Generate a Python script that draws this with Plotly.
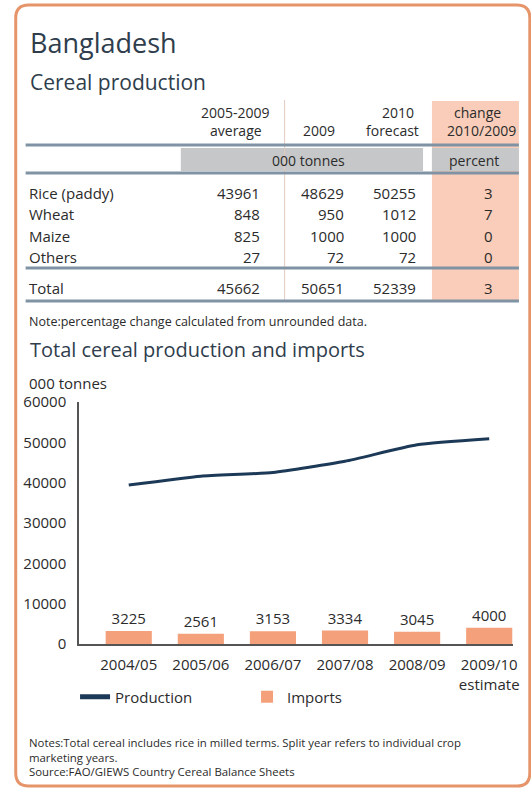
import plotly.graph_objects as go

# ---------------- data ----------------
table_columns = ["2005-2009 average", "2009", "2010 forecast", "change 2010/2009"]
crops = ["Rice (paddy)", "Wheat", "Maize", "Others"]
avg_2005_2009 = [43961, 848, 825, 27]
prod_2009 = [48629, 950, 1000, 72]
forecast_2010 = [50255, 1012, 1000, 72]
change_pct = [3, 7, 0, 0]
total_row = {"avg": 45662, "y2009": 50651, "f2010": 52339, "chg": 3}

years = ["2004/05", "2005/06", "2006/07", "2007/08", "2008/09", "2009/10<br>estimate"]
production = [39400, 41600, 42500, 45300, 49400, 50900]
imports = [3225, 2561, 3153, 3334, 3045, 4000]
y_ticks = [0, 10000, 20000, 30000, 40000, 50000, 60000]

# ---------------- layout geometry (pixels) ----------------
W, H = 531, 789
L, R_EDGE, T, B = 79, 518, 402, 644
PW, PH = R_EDGE - L, B - T


def X(px):
    return (px - L) / PW


def Y(py):
    return (B - py) / PH


FONT = "Open Sans, Noto Sans, sans-serif"
TXT = "#2b2b2b"
TITLE = "#2f3d4c"
ORANGE_BORDER = "#e6956a"
BAR = "#f4a07a"
PINK = "#f9cdb9"
GREY = "#c6c7c9"
RULE = "#8093a5"
NAVY = "#1c3a57"

fig = go.Figure()
fig.add_trace(go.Scatter(
    x=years, y=production, name="Production", mode="lines",
    line=dict(color=NAVY, width=3, shape="spline", smoothing=0.5),
    hoverinfo="x+y",
))
fig.add_trace(go.Bar(
    x=years, y=imports, name="Imports", marker=dict(color=BAR, line=dict(width=0)),
    width=0.64, text=[str(v) for v in imports], textposition="outside",
    textfont=dict(size=15, color=TXT, family=FONT), cliponaxis=False,
))

shapes = []
annotations = []


def ann(text, px, py, size=15, color=TXT, xanchor="left"):
    annotations.append(dict(
        text=text, x=X(px), y=Y(py), xref="paper", yref="paper",
        xanchor=xanchor, yanchor="middle", showarrow=False,
        font=dict(size=size, color=color, family=FONT),
    ))


def rect(x0, y0, x1, y1, color):
    shapes.append(dict(type="rect", xref="paper", yref="paper",
                       x0=X(x0), x1=X(x1), y0=Y(y1), y1=Y(y0),
                       fillcolor=color, line=dict(width=0), layer="below"))


def hline(y, x0, x1, color, width):
    shapes.append(dict(type="line", xref="paper", yref="paper",
                       x0=X(x0), x1=X(x1), y0=Y(y), y1=Y(y),
                       line=dict(color=color, width=width)))


# outer rounded frame (right side runs off the picture)
r = 13
fx0, fy0, fx1, fy1 = 15, 5, 535, 786
path = (
    f"M {X(fx0)},{Y(fy0 + r)} Q {X(fx0)},{Y(fy0)} {X(fx0 + r)},{Y(fy0)} "
    f"L {X(fx1 - r)},{Y(fy0)} Q {X(fx1)},{Y(fy0)} {X(fx1)},{Y(fy0 + r)} "
    f"L {X(fx1)},{Y(fy1 - r)} Q {X(fx1)},{Y(fy1)} {X(fx1 - r)},{Y(fy1)} "
    f"L {X(fx0 + r)},{Y(fy1)} Q {X(fx0)},{Y(fy1)} {X(fx0)},{Y(fy1 - r)} Z"
)
shapes.append(dict(type="path", path=path, xref="paper", yref="paper",
                   line=dict(color=ORANGE_BORDER, width=3), layer="below"))

# table backgrounds
rect(436, 101, 524, 301, PINK)
rect(182, 148, 427, 171, GREY)
rect(436, 148, 524, 171, GREY)
# vertical divider
shapes.append(dict(type="line", xref="paper", yref="paper",
                   x0=X(287), x1=X(287), y0=Y(100), y1=Y(301),
                   line=dict(color="#e3cbbf", width=1)))
for yy in (145, 173, 268, 301):
    hline(yy, 25, 524, RULE, 3)

# titles
ann("Bangladesh", 27, 42, size=27, color=TITLE)
ann("Cereal production", 27, 82, size=21, color=TITLE)
ann("Total cereal production and imports", 27, 349, size=20, color=TITLE)

# table header
ann("2005-2009", 237, 112, size=14, xanchor="center")
ann("average", 238, 130, size=14, xanchor="center")
ann("2009", 322, 130, size=14, xanchor="center")
ann("2010", 402, 112, size=14, xanchor="center")
ann("forecast", 396, 130, size=14, xanchor="center")
ann("change", 482, 112, size=14, xanchor="center")
ann("2010/2009", 486, 130, size=14, xanchor="center")
ann("000 tonnes", 311, 160, size=14, xanchor="center")
ann("percent", 479, 160, size=14, xanchor="center")

# table body
row_y = [193, 214, 236, 257]
for i, crop in enumerate(crops):
    yy = row_y[i]
    ann(crop, 26, yy)
    ann(str(avg_2005_2009[i]), 264, yy, xanchor="right")
    ann(str(prod_2009[i]), 349, yy, xanchor="right")
    ann(str(forecast_2010[i]), 422, yy, xanchor="right")
    ann(str(change_pct[i]), 493, yy, xanchor="center")
ann("Total", 26, 288)
ann(str(total_row["avg"]), 264, 288, xanchor="right")
ann(str(total_row["y2009"]), 349, 288, xanchor="right")
ann(str(total_row["f2010"]), 422, 288, xanchor="right")
ann(str(total_row["chg"]), 493, 288, xanchor="center")
ann("Note:percentage change calculated from unrounded data.", 26, 321, size=12.5)

# chart unit label
ann("000 tonnes", 26, 383, size=15)

# notes
ann("Notes:Total cereal includes rice in milled terms. Split year refers to individual crop", 26, 742, size=11.4)
ann("marketing years.", 26, 757, size=11.4)
ann("Source:FAO/GIEWS Country Cereal Balance Sheets", 26, 771, size=11.4)

fig.update_layout(
    width=W, height=H,
    margin=dict(l=L, r=W - R_EDGE, t=T, b=H - B, pad=0),
    paper_bgcolor="white", plot_bgcolor="white",
    font=dict(family=FONT, size=15, color=TXT),
    shapes=shapes, annotations=annotations,
    bargap=0.36,
    showlegend=True,
    legend=dict(orientation="h", x=X(75), y=Y(697), xanchor="left", yanchor="middle",
                font=dict(size=15, color=TXT, family=FONT), bgcolor="rgba(0,0,0,0)",
                entrywidth=127, entrywidthmode="pixels", borderwidth=0,
                itemsizing="constant"),
    xaxis=dict(type="category", range=[-0.69, 5.33], showgrid=False, zeroline=False,
               showline=True, linecolor="#555555", linewidth=2, ticks="",
               tickfont=dict(size=15, color=TXT, family=FONT), ticklabelstandoff=6,
               fixedrange=True),
    yaxis=dict(range=[0, 60000], tickvals=y_ticks, ticktext=[str(v) for v in y_ticks],
               showgrid=False, zeroline=False, showline=True, linecolor="#555555",
               linewidth=1.5, ticks="", tickfont=dict(size=15, color=TXT, family=FONT),
               ticklabelstandoff=8, fixedrange=True),
)

fig.write_html(
    "out.html",
    config={"displayModeBar": False},
    post_script="document.body.style.margin='0';document.body.style.overflow='hidden';",
)
